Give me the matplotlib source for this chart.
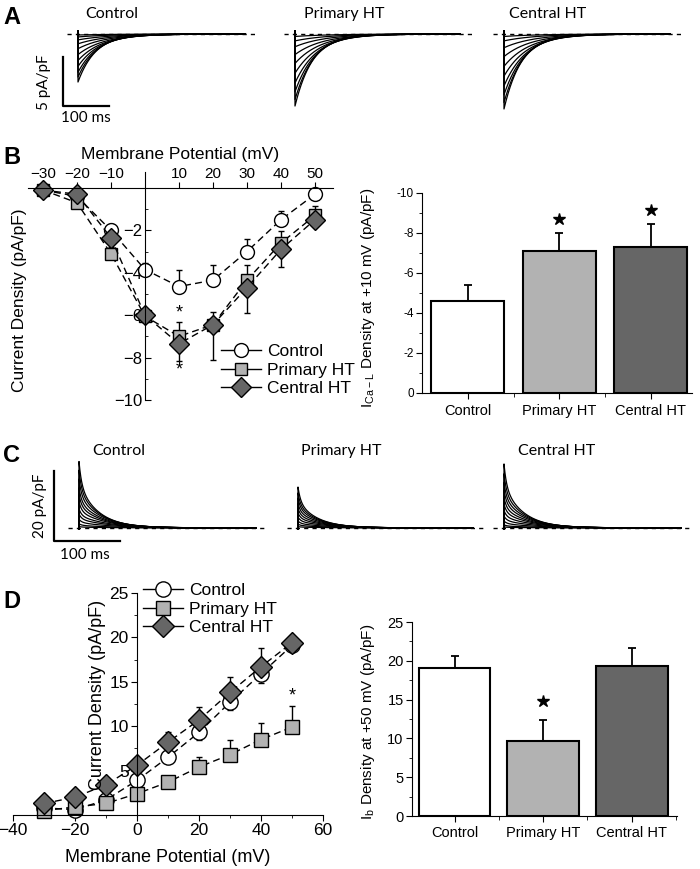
import numpy as np
import matplotlib
matplotlib.use('Agg')
import matplotlib.pyplot as plt
from matplotlib.lines import Line2D

plt.rcParams['font.family'] = ['Liberation Sans', 'DejaVu Sans']

# ---------------- data ----------------
groups = ['Control', 'Primary HT', 'Central HT']

# Panel A traces (I_Ca-L, pA/pF peak amplitudes and decay time constants in ms)
a_ctrl_peaks = [4.9, 4.4, 3.9, 3.3, 2.7, 2.1, 1.5, 1.0, 0.6, 0.3, 0.1]
a_prim_peaks = [7.35, 6.7, 5.9, 5.0, 4.0, 3.0, 2.1, 1.3, 0.7, 0.25]
a_cent_peaks = [7.65, 7.0, 6.2, 5.3, 4.3, 3.3, 2.3, 1.4, 0.7, 0.25]
a_taus = [38, 41, 44, 48, 52, 56, 60, 65, 70, 75, 80]

# Panel C traces (I_b, pA/pF)
c_ctrl_peaks = [19.0, 16.5, 14.0, 11.5, 9.5, 7.5, 5.5, 4.0, 2.5, 1.2, 0.4]
c_prim_peaks = [11.7, 10.0, 8.5, 7.0, 5.6, 4.3, 3.1, 2.0, 1.1, 0.4]
c_cent_peaks = [18.3, 15.5, 13.0, 10.8, 8.7, 6.8, 5.0, 3.4, 2.0, 0.9, 0.3]
c_taus = [30, 32, 34, 36, 38, 41, 44, 47, 51, 55, 60]
c_fast_frac, c_fast_tau = 0.35, 4.0

# Panel B IV (I_Ca-L)
voltages = [-30, -20, -10, 0, 10, 20, 30, 40, 50]
b_ctrl = [-0.1, -0.4, -2.0, -3.85, -4.65, -4.35, -3.0, -1.5, -0.3]
b_ctrl_err = [0.1, 0.2, 0.3, 0.3, 0.8, 0.7, 0.6, 0.4, 0.2]
b_prim = [-0.1, -0.7, -3.1, -6.05, -7.0, -6.45, -4.35, -2.6, -1.3]
b_prim_err = [0.1, 0.3, 0.3, 0.3, 0.7, 0.6, 0.7, 0.55, 0.45]
b_cent = [-0.1, -0.3, -2.35, -6.0, -7.35, -6.45, -4.7, -2.9, -1.5]
b_cent_err = [0.1, 0.2, 0.3, 0.3, 0.8, 1.65, 1.2, 0.85, 0.3]

# Panel B bars (at +10 mV)
b_bar = [-4.6, -7.1, -7.3]
b_bar_err = [0.8, 0.9, 1.15]

# Panel D IV (I_b)
d_ctrl = [0.8, 0.6, 1.7, 3.9, 6.5, 9.3, 12.7, 15.9, 19.1]
d_ctrl_err = [0.3, 0.3, 0.4, 0.5, 0.7, 0.8, 0.9, 1.0, 0.8]
d_prim = [0.5, 0.9, 1.3, 2.4, 3.7, 5.4, 6.8, 8.5, 9.9]
d_prim_err = [0.3, 0.4, 0.5, 0.6, 0.7, 1.1, 1.6, 1.9, 2.4]
d_cent = [1.3, 2.0, 3.4, 5.6, 8.2, 10.7, 13.8, 16.7, 19.4]
d_cent_err = [0.4, 0.5, 0.6, 0.8, 1.1, 1.5, 1.7, 2.1, 0.5]

# Panel D bars (at +50 mV)
d_bar = [19.1, 9.7, 19.3]
d_bar_err = [1.5, 2.7, 2.3]

# ---------------- figure ----------------
W, H = 700, 869
fig = plt.figure(figsize=(7, 8.69), dpi=100)

def add_ax(l, t, r, b):
    return fig.add_axes([l / W, 1 - b / H, (r - l) / W, (b - t) / H])

def ftext(x, y, s, **kw):
    fig.text(x / W, 1 - y / H, s, **kw)

WHITE, LGRAY, DGRAY = '#ffffff', '#b2b2b2', '#666666'
TFONT = ['Lato', 'DejaVu Sans']

def trace_panel(start_px, peaks, taus, ppms, ppu, base_px, xlim, ylim, sign, t_end, fast=0.0, ftau=1.0):
    left = start_px + xlim[0] * ppms
    right = start_px + xlim[1] * ppms
    top = base_px - ylim[1] * ppu
    bottom = base_px - ylim[0] * ppu
    ax = add_ax(left, top, right, bottom)
    ax.set_xlim(xlim)
    ax.set_ylim(ylim)
    ax.axis('off')
    t = np.linspace(0, t_end, 800)
    for p, tau in zip(peaks, taus):
        y = sign * p * (fast * np.exp(-t / ftau) + (1 - fast) * np.exp(-t / tau))
        ax.plot(np.r_[0, t], np.r_[-sign * 0.3, y], color='black', lw=0.9)
    ax.plot([xlim[0] + 2, xlim[1] - 3], [0, 0], ls=(0, (3, 3)), color='black', lw=1.0)
    return ax

# ---- Panel A ----
ppms_a, ppu_a, base_a = 0.465, 9.8, 34
xl_a, yl_a = (-25, 385), (-8.5, 1.0)
axA1 = trace_panel(78, a_ctrl_peaks, a_taus, ppms_a, ppu_a, base_a, xl_a, yl_a, -1, 360)
trace_panel(295, a_prim_peaks, a_taus, ppms_a, ppu_a, base_a, xl_a, yl_a, -1, 355)
trace_panel(504, a_cent_peaks, a_taus, ppms_a, ppu_a, base_a, xl_a, yl_a, -1, 357)
axA1.plot([-33.3, -33.3, 66.7], [-2.35, -7.35, -7.35], color='black', lw=1.6, clip_on=False)
ftext(44, 82, '5 pA/pF', rotation=90, ha='center', va='center', fontsize=11, family=TFONT)
ftext(86, 118, '100 ms', ha='center', va='center', fontsize=11, family=TFONT)
ftext(85, 14, 'Control', ha='left', va='center', fontsize=11.5, family=TFONT)
ftext(304, 14, 'Primary HT', ha='left', va='center', fontsize=11.5, family=TFONT)
ftext(509, 14, 'Central HT', ha='left', va='center', fontsize=11.5, family=TFONT)

# ---- Panel C ----
ppms_c, ppu_c, base_c = 0.66, 3.5, 528
xl_c, yl_c = (-18, 290), (-2.5, 22)
axC1 = trace_panel(79, c_ctrl_peaks, c_taus, ppms_c, ppu_c, base_c, xl_c, yl_c, 1, 268, c_fast_frac, c_fast_tau)
trace_panel(298, c_prim_peaks, c_taus, ppms_c, ppu_c, base_c, xl_c, yl_c, 1, 265, c_fast_frac, c_fast_tau)
trace_panel(504, c_cent_peaks, c_taus, ppms_c, ppu_c, base_c, xl_c, yl_c, 1, 268, c_fast_frac, c_fast_tau)
axC1.plot([-37.9, -37.9, 62.1], [16.3, -3.7, -3.7], color='black', lw=1.6, clip_on=False)
ftext(40, 506, '20 pA/pF', rotation=90, ha='center', va='center', fontsize=11, family=TFONT)
ftext(85, 555, '100 ms', ha='center', va='center', fontsize=11, family=TFONT)
ftext(92, 451, 'Control', ha='left', va='center', fontsize=11.5, family=TFONT)
ftext(301, 451, 'Primary HT', ha='left', va='center', fontsize=11.5, family=TFONT)
ftext(518, 451, 'Central HT', ha='left', va='center', fontsize=11.5, family=TFONT)

# ---- Panel letters ----
for lab, y in zip('ABCD', [18, 157, 455, 602]):
    ftext(12, y, lab, ha='center', va='center', fontsize=17, fontweight='bold')

def iv_series(ax, y, err, up, marker, face, ms, ls=(0, (5, 3))):
    err = np.asarray(err)
    z = np.zeros_like(err)
    yerr = [z, err] if up else [err, z]
    ax.errorbar(voltages, y, yerr=yerr, fmt='none', ecolor='black', elinewidth=1,
                capsize=2.5, capthick=1, clip_on=False)
    ax.plot(voltages, y, ls=ls, color='black', lw=1.0, marker=marker, ms=ms,
            markerfacecolor=face, markeredgecolor='black', markeredgewidth=1.0, clip_on=False)

def legend_handles(ms_c, ms_s, ms_d):
    return [Line2D([], [], color='black', lw=1, marker='o', ms=ms_c, mfc=WHITE, mec='black'),
            Line2D([], [], color='black', lw=1, marker='s', ms=ms_s, mfc=LGRAY, mec='black'),
            Line2D([], [], color='black', lw=1, marker='D', ms=ms_d, mfc=DGRAY, mec='black')]

# ---- Panel B left: IV ----
axB = add_ax(28, 172, 333, 400)
axB.set_xlim(-34.4, 55.3)
axB.set_ylim(-10, 0.75)
axB.spines['right'].set_visible(False)
axB.spines['bottom'].set_visible(False)
axB.spines['top'].set_position(('data', 0))
axB.spines['left'].set_position(('data', 0))
axB.xaxis.tick_top()
axB.set_xticks([-30, -20, -10, 10, 20, 30, 40, 50])
axB.set_yticks([-2, -4, -6, -8, -10])
axB.set_yticks([-1, -3, -5, -7, -9], minor=True)
axB.tick_params(axis='x', direction='out', length=4, labelsize=11, pad=1)
axB.tick_params(axis='y', which='major', direction='in', length=4, labelsize=12, pad=2)
axB.tick_params(axis='y', which='minor', direction='in', length=2)
axB.patch.set_alpha(0)
iv_series(axB, b_ctrl, b_ctrl_err, True, 'o', WHITE, 10)
iv_series(axB, b_prim, b_prim_err, True, 's', LGRAY, 9)
iv_series(axB, b_cent, b_cent_err, False, 'D', DGRAY, 10)
axB.text(10, -5.9, '*', ha='center', va='center', fontsize=13)
axB.text(10, -8.6, '*', ha='center', va='center', fontsize=13)
ftext(180, 155, 'Membrane Potential (mV)', ha='center', va='center', fontsize=12.5)
ftext(20, 300, 'Current Density (pA/pF)', rotation=90, ha='center', va='center', fontsize=12.5)
fig.legend(legend_handles(10, 9, 10), groups, loc='upper left',
           bbox_to_anchor=(221 / W, 1 - 344 / H), frameon=False, fontsize=12.5,
           handlelength=2.3, handletextpad=0.35, labelspacing=0.2, borderpad=0, borderaxespad=0)

# ---- Panel B right: bars ----
xpos = np.arange(len(groups))
axBr = add_ax(422, 193, 692, 393)
axBr.bar(xpos, b_bar, width=0.8, color=[WHITE, LGRAY, DGRAY], edgecolor='black', linewidth=1.5)
axBr.errorbar(xpos, b_bar, yerr=[b_bar_err, np.zeros(3)], fmt='none', ecolor='black',
              elinewidth=1.3, capsize=3, capthick=1.3)
star_b = np.array(b_bar) - np.array(b_bar_err) - 0.7
axBr.plot(xpos[1:], star_b[1:], ls='none', marker='*', ms=9, color='black', clip_on=False)
axBr.set_ylim(0, -10)
axBr.set_xlim(-0.5, 2.45)
axBr.spines['top'].set_visible(False)
axBr.spines['right'].set_visible(False)
axBr.set_yticks([0, -2, -4, -6, -8, -10])
axBr.set_yticklabels(['0', '-2', '-4', '-6', '-8', '-10'])
axBr.set_yticks([-1, -3, -5, -7, -9], minor=True)
axBr.set_xticks(xpos)
axBr.set_xticks([0.5, 1.5], minor=True)
axBr.set_xticklabels(groups)
axBr.tick_params(axis='y', which='major', direction='out', length=4, labelsize=8.5, pad=2)
axBr.tick_params(axis='y', which='minor', direction='out', length=2)
axBr.tick_params(axis='x', which='major', direction='out', length=4, labelsize=10.5, pad=4)
axBr.tick_params(axis='x', which='minor', direction='out', length=3)
ftext(368, 298, 'I$_{\\mathregular{Ca-L}}$ Density at +10 mV (pA/pF)', rotation=90,
      ha='center', va='center', fontsize=11)

# ---- Panel D left: IV ----
axD = add_ax(13, 593, 323, 815)
axD.set_xlim(-40, 60)
axD.set_ylim(0, 25)
axD.spines['right'].set_visible(False)
axD.spines['top'].set_visible(False)
axD.spines['left'].set_position(('data', 0))
axD.set_xticks([-40, -20, 0, 20, 40, 60])
axD.set_xticks([-30, -10, 10, 30, 50], minor=True)
axD.set_yticks([5, 10, 15, 20, 25])
axD.set_yticks([2.5, 7.5, 12.5, 17.5, 22.5], minor=True)
axD.tick_params(axis='both', which='major', direction='out', length=4, labelsize=12.5, pad=2)
axD.tick_params(axis='both', which='minor', direction='out', length=2)
axD.patch.set_alpha(0)
iv_series(axD, d_ctrl, d_ctrl_err, False, 'o', WHITE, 11)
iv_series(axD, d_prim, d_prim_err, True, 's', LGRAY, 10)
iv_series(axD, d_cent, d_cent_err, True, 'D', DGRAY, 11)
axD.text(50, 13.4, '*', ha='center', va='center', fontsize=13)
ftext(168, 857, 'Membrane Potential (mV)', ha='center', va='center', fontsize=13)
ftext(97, 695, 'Current Density (pA/pF)', rotation=90, ha='center', va='center', fontsize=13)
fig.legend(legend_handles(11, 10, 11), groups, loc='upper left',
           bbox_to_anchor=(143 / W, 1 - 583 / H), frameon=False, fontsize=12.5,
           handlelength=2.3, handletextpad=0.35, labelspacing=0.2, borderpad=0, borderaxespad=0)

# ---- Panel D right: bars ----
axDr = add_ax(412, 622, 677, 816)
axDr.bar(xpos, d_bar, width=0.81, color=[WHITE, LGRAY, DGRAY], edgecolor='black', linewidth=1.5)
axDr.errorbar(xpos, d_bar, yerr=[np.zeros(3), d_bar_err], fmt='none', ecolor='black',
              elinewidth=1.3, capsize=3, capthick=1.3)
axDr.plot([xpos[1]], [d_bar[1] + d_bar_err[1] + 2.4], ls='none', marker='*', ms=9, color='black')
axDr.set_ylim(0, 25)
axDr.set_xlim(-0.48, 2.51)
axDr.spines['top'].set_visible(False)
axDr.spines['right'].set_visible(False)
axDr.set_yticks([0, 5, 10, 15, 20, 25])
axDr.set_yticks([2.5, 7.5, 12.5, 17.5, 22.5], minor=True)
axDr.set_xticks(xpos)
axDr.set_xticks([0.5, 1.5, 2.5], minor=True)
axDr.set_xticklabels(groups)
axDr.tick_params(axis='y', which='major', direction='out', length=4, labelsize=10.5, pad=2)
axDr.tick_params(axis='y', which='minor', direction='out', length=2)
axDr.tick_params(axis='x', which='major', direction='out', length=4, labelsize=10.5, pad=3)
axDr.tick_params(axis='x', which='minor', direction='out', length=3)
ftext(368, 722, 'I$_{\\mathregular{b}}$ Density at +50 mV (pA/pF)', rotation=90,
      ha='center', va='center', fontsize=11)

fig.savefig('out.png', dpi=100)
